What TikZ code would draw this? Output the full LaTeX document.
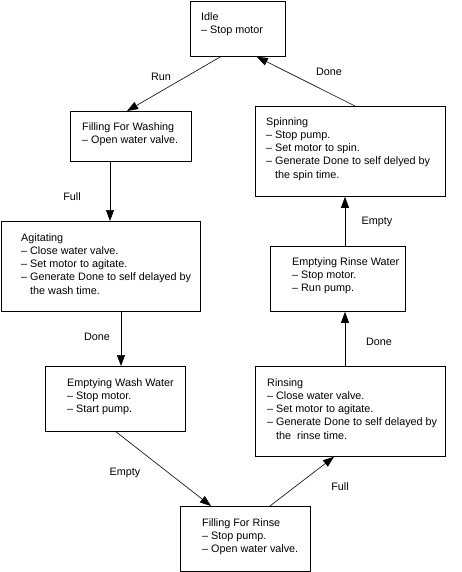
\documentclass[tikz,border=0pt]{standalone}
\usepackage{fontspec}
\setmainfont{Liberation Sans}
\usetikzlibrary{arrows.meta,calc}
\begin{document}
\begin{tikzpicture}[x=1pt,y=-1pt,
  box/.style={draw,line width=0.8pt,inner sep=0pt,anchor=north west},
  txt/.style={anchor=north west,inner sep=0pt,align=left,font=\fontsize{10.8}{13.3}\selectfont},
  lbl/.style={inner sep=0pt,font=\fontsize{10.8}{13.3}\selectfont},
  conn/.style={line width=0.6pt,-{Triangle[length=11pt,width=8pt]}}]
\useasboundingbox (0,0) rectangle (462,572);
% boxes
\node[box,minimum width=95pt,minimum height=55pt] (idle) at (190,1) {};
\node[box,minimum width=121pt,minimum height=50pt] (ffw) at (70,111) {};
\node[box,minimum width=190pt,minimum height=90pt] (spin) at (255,106) {};
\node[box,minimum width=199pt,minimum height=90pt] (agit) at (1,221) {};
\node[box,minimum width=135pt,minimum height=65pt] (erw) at (270,246) {};
\node[box,minimum width=140pt,minimum height=65pt] (eww) at (45,366) {};
\node[box,minimum width=190pt,minimum height=90pt] (rins) at (255,366) {};
\node[box,minimum width=130pt,minimum height=65pt] (ffr) at (180,506) {};
% texts
\node[txt] (tidle) at (201,12) {Idle\\– Stop motor};
\node[txt] (tffw) at (82,122) {Filling For Washing\\– Open water valve.};
\node[txt] (tspin) at (266,117) {Spinning\\– Stop pump.\\– Set motor to spin.\\– Generate Done to self delyed by\\\phantom{– }the spin time.};
\node[txt] (tagit) at (21,233) {Agitating\\– Close water valve.\\– Set motor to agitate.\\– Generate Done to self delayed by\\\phantom{– }the wash time.};
\node[txt] (terw) at (292,257) {Emptying Rinse Water\\– Stop motor.\\– Run pump.};
\node[txt] (teww) at (67,378) {Emptying Wash Water\\– Stop motor.\\– Start pump.};
\node[txt] (trins) at (267,378) {Rinsing\\– Close water valve.\\– Set motor to agitate.\\– Generate Done to self delayed by\\\phantom{– }the~~rinse time.};
\node[txt] (tffr) at (202,518) {Filling For Rinse\\– Stop pump.\\– Open water valve.};
% connectors
\draw[conn] ($(idle.south west)+(30.5,0)$) -- ($(ffw.north west)+(57,0)$);
\draw[conn] ($(spin.north west)+(100,0)$) -- ($(idle.south east)+(-29,0)$);
\draw[conn] ($(ffw.south west)+(40,0)$) -- ($(agit.north west)+(109,0)$);
\draw[conn] ($(agit.south west)+(120,0)$) -- ($(eww.north west)+(76,0)$);
\draw[conn] ($(eww.south west)+(71,0)$) -- ($(ffr.north west)+(31,0)$);
\draw[conn] ($(ffr.north west)+(90,0)$) -- ($(rins.south west)+(79,0)$);
\draw[conn] ($(rins.north west)+(90,0)$) -- ($(erw.south west)+(75,0)$);
\draw[conn] ($(erw.north west)+(75,0)$) -- ($(spin.south west)+(90,0)$);
% labels
\node[lbl] (lrun) at (161,77) {Run};
\node[lbl] (ldone1) at (329,72) {Done};
\node[lbl] (lfull1) at (72,197) {Full};
\node[lbl] (ldone2) at (97,337) {Done};
\node[lbl] (lempty1) at (125,473) {Empty};
\node[lbl] (lfull2) at (340,487) {Full};
\node[lbl] (ldone3) at (379,342) {Done};
\node[lbl] (lempty2) at (377,222) {Empty};
\end{tikzpicture}
\end{document}
